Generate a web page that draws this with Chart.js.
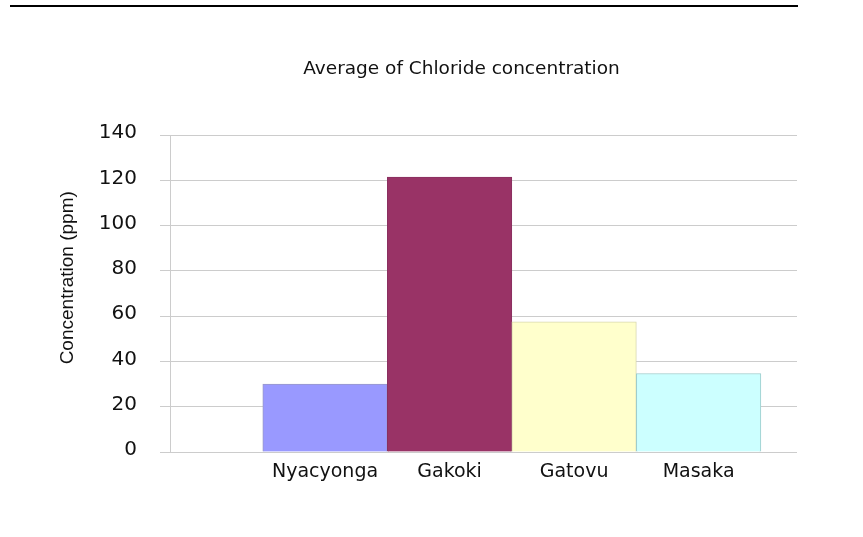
<!DOCTYPE html>
<html>
<head>
<meta charset="utf-8">
<script src="https://cdn.jsdelivr.net/npm/chart.js@4.4.0/dist/chart.umd.min.js"></script>
<style>
  body { margin: 0; background: #fff; }
  #wrap { position: relative; width: 863px; height: 537px; }
  #topLine { position: absolute; left: 10px; top: 5px; width: 788px; border-top: 2px solid #000; }
</style>
</head>
<body>
<div id="wrap">
  <canvas id="grafico" width="863" height="537"></canvas>
  <div id="topLine"></div>
</div>
<script>
// datos del grafico
const categorias = ['Nyacyonga', 'Gakoki', 'Gatovu', 'Masaka']
const valores = [30, 121.5, 57.5, 34.7]
const colores = ['#9999ff', '#993366', '#ffffcc', '#ccffff']
const bordes = ['#9a9ac8', '#8a3060', '#d8d8b0', '#9ccccc']
const ticksY = [0, 20, 40, 60, 80, 100, 120, 140]

// el original esta estirado a lo ancho, DejaVu se acerca mas a ese ancho
const fuenteAncha = "'DejaVu Sans', sans-serif"
const fuente = "'Liberation Sans', Arial, sans-serif"

const ctx = document.getElementById('grafico')

// mueve el titulo para centrarlo como en la imagen
const moverTitulo = {
    id: 'moverTitulo',
    afterLayout: (chart) => {
        if (chart.titleBlock) {
            chart.titleBlock.left = 126
            chart.titleBlock.right = 797
        }
    }
}

const data = {
    datasets: [
        {
            label: 'Average of Chloride concentration',
            data: valores.map((v, i) => ({ x: i + 1, y: v })),
            backgroundColor: colores,
            borderColor: bordes,
            borderWidth: 1,
            barPercentage: 1,
            categoryPercentage: 1
        }
    ]
}

const config = {
    type: 'bar',
    data: data,
    plugins: [moverTitulo],
    options: {
        responsive: false,
        animation: false,
        layout: {
            padding: { left: 0, right: 66, top: 0, bottom: 0 }
        },
        plugins: {
            legend: { display: false },
            tooltip: { enabled: false },
            title: {
                display: true,
                text: 'Average of Chloride concentration',
                color: '#111',
                font: { family: fuenteAncha, size: 18.5, weight: 'normal' },
                padding: { top: 58, bottom: 55 }
            }
        },
        scales: {
            x: {
                type: 'linear',
                offset: false,
                min: -0.245,
                max: 4.79,
                afterFit: (scale) => { scale.height = 85 },
                grid: { display: false, drawTicks: false, offset: false },
                border: { display: false },
                afterBuildTicks: (scale) => {
                    scale.ticks = categorias.map((c, i) => ({ value: i + 1 }))
                },
                ticks: {
                    autoSkip: false,
                    maxRotation: 0,
                    padding: 9,
                    color: '#111',
                    font: { family: fuenteAncha, size: 19 },
                    callback: (value) => categorias[value - 1] || ''
                }
            },
            y: {
                min: ticksY[0],
                max: ticksY[ticksY.length - 1],
                afterFit: (scale) => { scale.width = 170 },
                afterBuildTicks: (scale) => {
                    scale.ticks = ticksY.map(v => ({ value: v }))
                },
                grid: {
                    color: '#cccccc',
                    tickLength: 10,
                    tickColor: '#cccccc'
                },
                border: { display: true, color: '#cccccc' },
                ticks: {
                    padding: 23,
                    labelOffset: -2,
                    color: '#111',
                    font: { family: fuenteAncha, size: 20 }
                },
                title: {
                    display: true,
                    text: '\u00a0\u00a0\u00a0\u00a0\u00a0\u00a0Concentration (ppm)',
                    color: '#111',
                    font: { family: fuente, size: 19 },
                    padding: { top: 56, bottom: 0 }
                }
            }
        }
    }
}

const miGrafico = new Chart(ctx, config)
</script>
</body>
</html>
